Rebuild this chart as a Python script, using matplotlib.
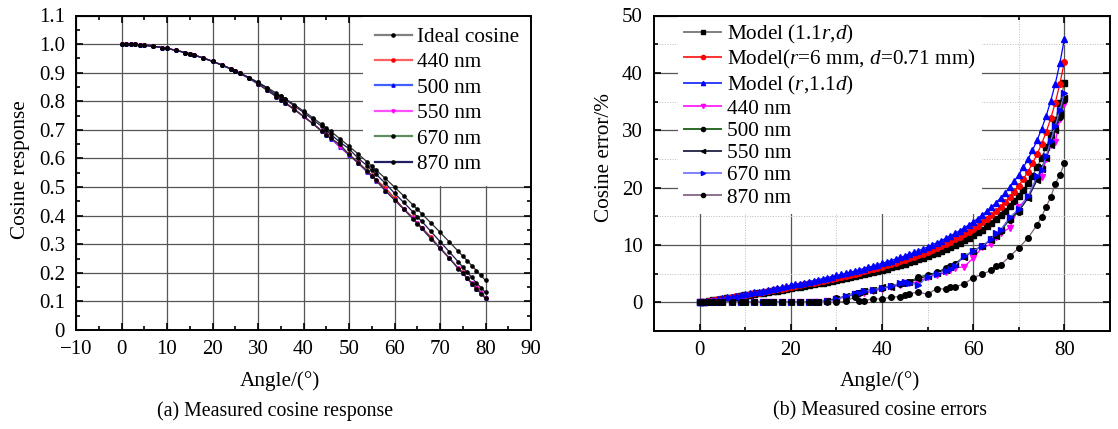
import numpy as np
import matplotlib
matplotlib.use('Agg')
import matplotlib.pyplot as plt
from matplotlib.ticker import MultipleLocator

plt.rcParams['font.family'] = ['Liberation Serif', 'DejaVu Serif']
plt.rcParams['mathtext.fontset'] = 'custom'
plt.rcParams['mathtext.rm'] = 'Liberation Serif'
plt.rcParams['mathtext.it'] = 'Liberation Serif:italic'

# ---- data -------------------------------------------------------------
# measurement angles (deg)
angles = [0, 1, 2, 3, 4, 5, 7, 9, 10, 12, 14, 15, 16, 18, 20, 22, 24, 25, 26, 28,
          30, 32, 34, 35, 36, 38, 40, 42, 44, 45, 46, 48, 50, 52, 54, 55, 56, 58,
          60, 62, 64, 65, 66, 68, 70, 72, 74, 75, 76, 77, 78, 79, 80]

# (a) cosine response
ideal = [1.000, 0.9998, 0.9994, 0.9986, 0.9976, 0.9962, 0.9925, 0.9877, 0.9848, 0.9781,
         0.9703, 0.9659, 0.9613, 0.9511, 0.9397, 0.9272, 0.9135, 0.9063, 0.8988, 0.8829,
         0.8660, 0.8480, 0.8290, 0.8192, 0.8090, 0.7880, 0.7660, 0.7431, 0.7193, 0.7071,
         0.6947, 0.6691, 0.6428, 0.6157, 0.5878, 0.5736, 0.5592, 0.5299, 0.5000, 0.4695,
         0.4384, 0.4226, 0.4067, 0.3746, 0.3420, 0.3090, 0.2756, 0.2588, 0.2419, 0.2250,
         0.2079, 0.1908, 0.1736]
head = [1.000, 0.9998, 0.9994, 0.9986, 0.9976, 0.9962, 0.9925, 0.9877, 0.9848, 0.9781,
        0.9703, 0.9659, 0.9613, 0.9511, 0.9397, 0.9272, 0.9135, 0.9058]
resp_440 = head + [0.8979, 0.8811, 0.8617, 0.8395, 0.8174, 0.8069, 0.7961, 0.7730, 0.7476,
                   0.7230, 0.6977, 0.6838, 0.6718, 0.6450, 0.6145, 0.5862, 0.5572, 0.5415,
                   0.5256, 0.4970, 0.4615, 0.4244, 0.3941, 0.3744, 0.3579, 0.3259, 0.2852,
                   0.2521, 0.2163, 0.2021, 0.1814, 0.1631, 0.1499, 0.1297, 0.1135]
resp_500 = head + [0.8979, 0.8803, 0.8599, 0.8395, 0.8166, 0.8053, 0.7936, 0.7715, 0.7469,
                   0.7223, 0.6963, 0.6831, 0.6697, 0.6397, 0.6119, 0.5837, 0.5525, 0.5369,
                   0.5217, 0.4875, 0.4550, 0.4235, 0.3902, 0.3727, 0.3563, 0.3207, 0.2880,
                   0.2525, 0.2161, 0.1982, 0.1805, 0.1625, 0.1445, 0.1292, 0.1125]
resp_550 = head + [0.8979, 0.8811, 0.8608, 0.8387, 0.8157, 0.8045, 0.7928, 0.7707, 0.7461,
                   0.7230, 0.6956, 0.6816, 0.6704, 0.6417, 0.6132, 0.5843, 0.5543, 0.5386,
                   0.5223, 0.4880, 0.4555, 0.4230, 0.3911, 0.3736, 0.3555, 0.3199, 0.2873,
                   0.2531, 0.2169, 0.1988, 0.1809, 0.1631, 0.1455, 0.1282, 0.1118]
resp_670 = head + [0.8979, 0.8811, 0.8617, 0.8387, 0.8166, 0.8053, 0.7936, 0.7707, 0.7469,
                   0.7223, 0.6948, 0.6816, 0.6711, 0.6490, 0.6139, 0.5849, 0.5555, 0.5403,
                   0.5234, 0.4875, 0.4550, 0.4235, 0.3897, 0.3719, 0.3555, 0.3192, 0.2863,
                   0.2518, 0.2150, 0.1993, 0.1802, 0.1616, 0.1439, 0.1269, 0.1102]
resp_870 = head + [0.8988, 0.8829, 0.8660, 0.8463, 0.8215, 0.8167, 0.8066, 0.7833, 0.7614,
                   0.7364, 0.7121, 0.6986, 0.6843, 0.6571, 0.6338, 0.6009, 0.5743, 0.5581,
                   0.5441, 0.5129, 0.4785, 0.4465, 0.4139, 0.3956, 0.3803, 0.3446, 0.3095,
                   0.2744, 0.2384, 0.2202, 0.2015, 0.1838, 0.1649, 0.1484, 0.1316]

# (b) cosine error (%)
model_angles = list(range(0, 81))
model_11r = [0, 0.12, 0.24, 0.35, 0.47, 0.59, 0.71, 0.83, 0.95, 1.07, 1.19, 1.31, 1.44, 1.56,
             1.68, 1.81, 1.94, 2.06, 2.19, 2.32, 2.46, 2.59, 2.73, 2.87, 3.01, 3.15, 3.29,
             3.44, 3.59, 3.74, 3.90, 4.06, 4.22, 4.38, 4.55, 4.73, 4.90, 5.09, 5.27, 5.47,
             5.66, 5.87, 6.08, 6.29, 6.52, 6.75, 6.99, 7.24, 7.50, 7.77, 8.04, 8.34, 8.64,
             8.96, 9.29, 9.64, 10.01, 10.39, 10.80, 11.23, 11.69, 12.18, 12.69, 13.25, 13.84,
             14.48, 15.16, 15.90, 16.71, 17.58, 18.55, 19.60, 20.77, 22.08, 23.54, 25.19,
             27.07, 29.24, 31.76, 34.73, 38.28]
model_r6 = [0, 0.13, 0.26, 0.39, 0.52, 0.65, 0.78, 0.91, 1.04, 1.17, 1.30, 1.44, 1.57, 1.71,
            1.84, 1.98, 2.12, 2.26, 2.40, 2.55, 2.69, 2.84, 2.99, 3.14, 3.29, 3.45, 3.61,
            3.77, 3.93, 4.10, 4.27, 4.45, 4.62, 4.81, 4.99, 5.18, 5.38, 5.58, 5.78, 5.99,
            6.21, 6.43, 6.66, 6.90, 7.15, 7.40, 7.66, 7.94, 8.22, 8.51, 8.82, 9.14, 9.47,
            9.82, 10.19, 10.57, 10.97, 11.40, 11.84, 12.32, 12.82, 13.35, 13.92, 14.52, 15.17,
            15.87, 16.62, 17.43, 18.32, 19.28, 20.33, 21.49, 22.78, 24.20, 25.81, 27.62,
            29.68, 32.05, 34.81, 38.07, 41.97]
model_11d = [0, 0.14, 0.28, 0.42, 0.57, 0.71, 0.85, 0.99, 1.14, 1.28, 1.43, 1.57, 1.72, 1.87,
             2.02, 2.17, 2.32, 2.48, 2.63, 2.79, 2.95, 3.11, 3.27, 3.44, 3.61, 3.78, 3.95,
             4.13, 4.31, 4.49, 4.68, 4.87, 5.06, 5.26, 5.46, 5.67, 5.88, 6.10, 6.33, 6.56,
             6.80, 7.04, 7.29, 7.55, 7.82, 8.10, 8.39, 8.69, 9.00, 9.32, 9.65, 10.00, 10.37,
             10.75, 11.15, 11.57, 12.01, 12.47, 12.96, 13.48, 14.03, 14.61, 15.23, 15.90,
             16.61, 17.37, 18.19, 19.08, 20.05, 21.10, 22.25, 23.52, 24.93, 26.49, 28.25,
             30.23, 32.49, 35.09, 38.11, 41.67, 45.94]
zeros17 = [0] * 17
err_440 = zeros17 + [0, 0.1, 0.2, 0.5, 1.0, 1.4, 1.5, 1.6, 1.9, 2.4, 2.7, 3.0, 3.3, 3.3, 3.6,
                     4.4, 4.8, 5.2, 5.6, 6.0, 6.2, 7.7, 9.6, 10.1, 11.4, 12.0, 13.0, 16.6,
                     18.4, 21.5, 21.9, 25.0, 27.5, 27.9, 32.0, 34.6]
err_500 = zeros17 + [0.05, 0.1, 0.3, 0.7, 1.0, 1.5, 1.7, 1.9, 2.1, 2.5, 2.8, 3.2, 3.4, 3.6,
                     4.4, 4.8, 5.2, 6.0, 6.4, 6.7, 8.0, 9.0, 9.8, 11.0, 11.8, 12.4, 14.4,
                     15.8, 18.3, 21.6, 23.4, 25.4, 27.8, 30.5, 32.3, 35.2]
err_550 = zeros17 + [0, 0.1, 0.2, 0.6, 1.1, 1.6, 1.8, 2.0, 2.2, 2.6, 2.7, 3.3, 3.6, 3.5, 4.1,
                     4.6, 5.1, 5.7, 6.1, 6.6, 7.9, 8.9, 9.9, 10.8, 11.6, 12.6, 14.6, 16.0,
                     18.1, 21.3, 23.2, 25.2, 27.5, 30.0, 32.8, 35.6]
err_670 = zeros17 + [0, 0.1, 0.2, 0.5, 1.1, 1.5, 1.7, 1.9, 2.2, 2.5, 2.8, 3.4, 3.6, 3.4, 3.0,
                     4.5, 5.0, 5.5, 5.8, 6.4, 8.0, 9.0, 9.8, 11.1, 12.0, 12.6, 14.8, 16.3,
                     18.5, 22.0, 23.0, 25.5, 28.2, 30.8, 33.5, 36.5]
err_870 = zeros17 + [0, 0, 0, 0, 0.2, 0.9, 0.3, 0.3, 0.6, 0.6, 0.9, 1.0, 1.2, 1.5, 1.8, 1.4,
                     2.4, 2.3, 2.7, 2.7, 3.2, 4.3, 4.9, 5.6, 6.4, 6.5, 8.0, 9.5, 11.2, 13.5,
                     14.9, 16.7, 18.3, 20.7, 22.2, 24.2]

# ---- figure -----------------------------------------------------------
fig = plt.figure(figsize=(11.18, 4.29), dpi=100)
W, H = 1118.0, 429.0
TICK_FS = 15
LABEL_FS = 15.3
LEG_FS = 15.3


def box(x0, y0, x1, y1):
    return [x0 / W, 1 - y1 / H, (x1 - x0) / W, (y1 - y0) / H]


def style_axes(ax):
    for s in ax.spines.values():
        s.set_linewidth(1.4)
    ax.tick_params(which='both', direction='in', top=True, right=True,
                   labelsize=TICK_FS, width=1.2)
    ax.tick_params(which='major', length=5)
    ax.tick_params(which='minor', length=3)
    ax.tick_params(axis='x', which='major', pad=7)
    ax.tick_params(axis='y', which='major', pad=8)


# (a)
ax1 = fig.add_axes(box(76, 15.5, 531, 330))
ax1.set_axisbelow(True)
ax1.grid(True, which='major', color='#555555', lw=0.9)
ms = 2.3
ax1.plot(angles, ideal, '-o', color='#303030', mfc='black', mec='black', ms=ms, lw=0.9,
         label='Ideal cosine')
ax1.plot(angles, resp_440, '-o', color='#e02020', mfc='red', mec='red', ms=ms, lw=0.9,
         label='440 nm')
ax1.plot(angles, resp_500, '-^', color='#2030e0', mfc='blue', mec='blue', ms=ms, lw=0.9,
         label='500 nm')
ax1.plot(angles, resp_550, '-v', color='#e020e0', mfc='magenta', mec='magenta', ms=ms,
         lw=0.9, label='550 nm')
ax1.plot(angles, resp_670, '-o', color='#2a3a2a', mfc='black', mec='black', ms=ms, lw=0.9,
         label='670 nm')
ax1.plot(angles, resp_870, '-o', color='#1a1a50', mfc='black', mec='black', ms=ms, lw=0.9,
         label='870 nm')
ax1.set_xlim(-10, 90)
ax1.set_ylim(0, 1.1)
ax1.xaxis.set_major_locator(MultipleLocator(10))
ax1.xaxis.set_minor_locator(MultipleLocator(5))
ax1.yaxis.set_minor_locator(MultipleLocator(0.05))
ax1.set_yticks(np.arange(0, 1.11, 0.1))
ax1.set_yticklabels(['0'] + ['%.1f' % v for v in np.arange(0.1, 1.11, 0.1)])
style_axes(ax1)
ax1.set_ylabel('Cosine response', fontsize=LABEL_FS)
ax1.yaxis.set_label_coords(-0.1, 0.51)
leg1 = ax1.legend(loc='upper right', fontsize=LEG_FS, frameon=True, fancybox=False,
                  facecolor='white', edgecolor='none', framealpha=1,
                  borderaxespad=0.0, borderpad=0.55, labelspacing=0.26,
                  handlelength=1.75, handletextpad=0.25)
leg1.set_zorder(1)
leg_colors1 = ['#808080', '#ff6060', '#4060ff', '#ff50ff', '#5f8f5f', '#202060']
for h, c in zip(leg1.get_lines(), leg_colors1):
    h.set_color(c)
    h.set_linewidth(1.6)

# (b)
ax2 = fig.add_axes(box(654, 15.5, 1110, 331))
ax2.set_axisbelow(True)
ax2.grid(True, which='major', color='#555555', lw=0.9)
ax2.grid(True, which='minor', color='#bbbbbb', lw=0.7, ls=':')
mk = 4.0
ax2.plot(model_angles, model_11r, '-s', color='#606060', mfc='black', mec='black', ms=mk,
         lw=0.9, label='Model (1.1$r$,$d$)')
ax2.plot(model_angles, model_r6, '-o', color='red', mfc='red', mec='red', ms=mk, lw=0.9,
         label='Model($r$=6 mm, $d$=0.71 mm)')
ax2.plot(model_angles, model_11d, '-^', color='blue', mfc='blue', mec='blue', ms=mk, lw=0.9,
         label='Model ($r$,1.1$d$)')
ax2.plot(angles, err_440, '-v', color='magenta', mfc='magenta', mec='magenta', ms=mk, lw=0.9,
         label='440 nm')
ax2.plot(angles, err_500, '-o', color='#1a601a', mfc='black', mec='black', ms=mk, lw=0.9,
         label='500 nm')
ax2.plot(angles, err_550, '-<', color='#202040', mfc='black', mec='black', ms=mk, lw=0.9,
         label='550 nm')
ax2.plot(angles, err_670, '->', color='#6a6aff', mfc='blue', mec='blue', ms=mk, lw=0.9,
         label='670 nm')
ax2.plot(angles, err_870, '-o', color='#806080', mfc='black', mec='black', ms=mk, lw=0.9,
         label='870 nm')
ax2.set_xlim(-10, 90)
ax2.set_ylim(-5, 50)
ax2.set_xticks([0, 20, 40, 60, 80])
ax2.xaxis.set_minor_locator(MultipleLocator(10))
ax2.set_yticks([0, 10, 20, 30, 40, 50])
ax2.yaxis.set_minor_locator(MultipleLocator(5))
style_axes(ax2)
ax2.set_ylabel('Cosine error/%', fontsize=LABEL_FS)
ax2.yaxis.set_label_coords(-0.088, 0.55)
leg2 = ax2.legend(loc='upper left', bbox_to_anchor=(0.052, 0.997), fontsize=LEG_FS,
                  frameon=True, fancybox=False,
                  facecolor='white', edgecolor='none', framealpha=1,
                  borderaxespad=0.0, borderpad=0.3, labelspacing=0.11,
                  handlelength=1.75, handletextpad=0.25)
leg2.set_zorder(1)
leg_colors2 = ['#808080', '#ff3030', '#3040ff', '#ff30ff', '#2a6a2a', '#303050',
               '#8080ff', '#907090']
for h, c in zip(leg2.get_lines(), leg_colors2):
    h.set_color(c)
    h.set_markersize(3)
    h.set_linewidth(1.4)

fig.text(280 / W, 1 - 381 / H, 'Angle/(°)', fontsize=LABEL_FS, ha='center', va='center')
fig.text(275 / W, 1 - 411 / H, '(a) Measured cosine response', fontsize=14.3,
         ha='center', va='center')
fig.text(880 / W, 1 - 381 / H, 'Angle/(°)', fontsize=LABEL_FS, ha='center', va='center')
fig.text(880 / W, 1 - 411 / H, '(b) Measured cosine errors', fontsize=14.3,
         ha='center', va='center')

fig.savefig('out.png', dpi=100)
